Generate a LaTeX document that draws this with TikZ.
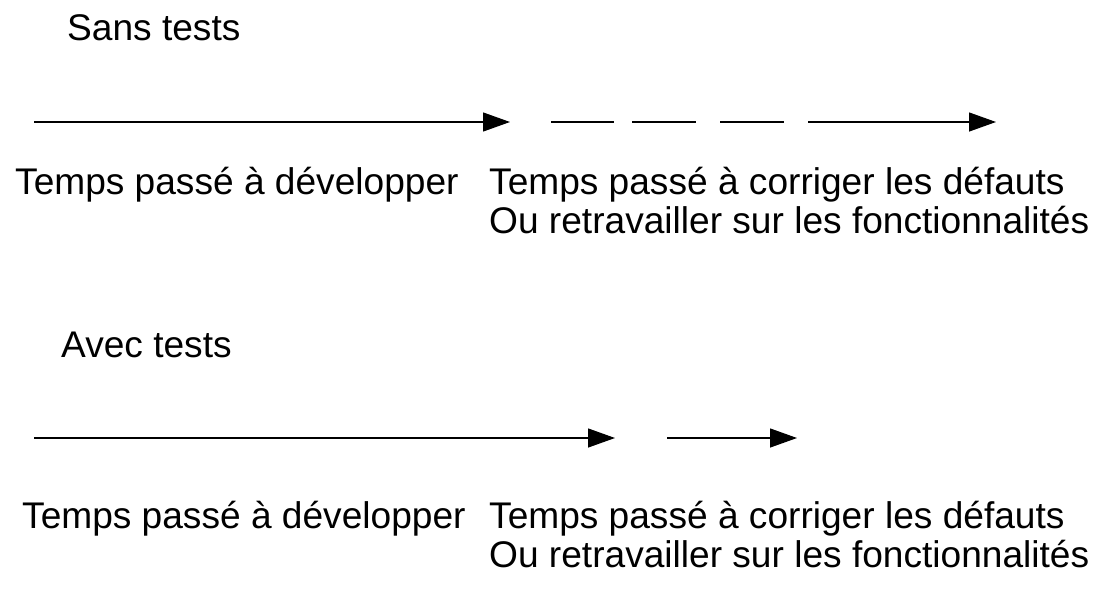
\documentclass[tikz,border=0pt]{standalone}
\usepackage{fontspec}
\setmainfont{Liberation Sans}
\usetikzlibrary{arrows.meta}
\begin{document}
\begin{tikzpicture}[x=1pt,y=-1pt,
  lbl/.style={anchor=base west,inner sep=0pt,font=\fontsize{37.1}{40}\selectfont},
  ln/.style={line width=1.3pt},
  arr/.style={ln,-{Triangle[length=27pt,width=19pt]}}]
\useasboundingbox (0,0) rectangle (1111,597);
% top
\node[lbl] (t1) at (67,40) {Sans tests};
\coordinate (a1s) at (34,122); \coordinate (a1e) at (510,122);
\draw[arr] (a1s) -- (a1e);
\coordinate (d1s) at (551,122); \coordinate (d1e) at (614,122);
\coordinate (d2s) at (632,122); \coordinate (d2e) at (696,122);
\coordinate (d3s) at (720,122); \coordinate (d3e) at (784,122);
\draw[ln] (d1s) -- (d1e);
\draw[ln] (d2s) -- (d2e);
\draw[ln] (d3s) -- (d3e);
\coordinate (a2s) at (808,122); \coordinate (a2e) at (996,122);
\draw[arr] (a2s) -- (a2e);
\node[lbl] (l1) at (15,194) {Temps passé à développer};
\node[lbl] (r1) at (489,194) {Temps passé à corriger les défauts};
\node[lbl] (r2) at (489,233) {Ou retravailler sur les fonctionnalités};
% bottom
\node[lbl] (t2) at (61,357) {Avec tests};
\coordinate (b1s) at (34,438); \coordinate (b1e) at (615,438);
\draw[arr] (b1s) -- (b1e);
\coordinate (b2s) at (667,438); \coordinate (b2e) at (797,438);
\draw[arr] (b2s) -- (b2e);
\node[lbl] (l2) at (22,528) {Temps passé à développer};
\node[lbl] (r3) at (489,528) {Temps passé à corriger les défauts};
\node[lbl] (r4) at (489,567) {Ou retravailler sur les fonctionnalités};
\end{tikzpicture}
\end{document}
